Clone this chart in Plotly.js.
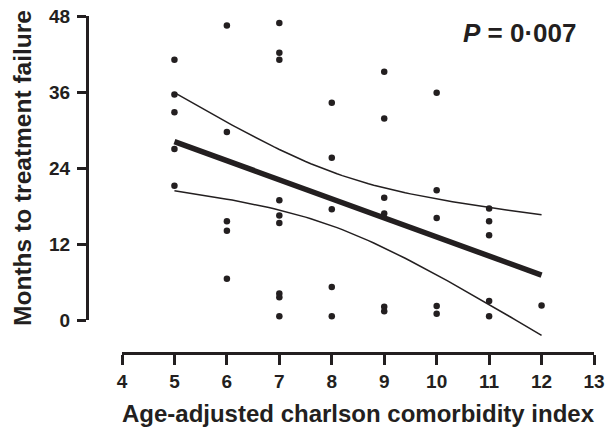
<!DOCTYPE html>
<html><head><meta charset="utf-8">
<script src="https://cdn.plot.ly/plotly-3.0.1.min.js"></script>
<style>html,body{margin:0;padding:0;background:#fff}</style>
</head><body><div id="chart" style="width:606px;height:432px"></div>
<script>
// ---- data ----
const aaci = [5,5,5,5,5, 6,6,6,6,6, 7,7,7,7,7,7,7,7,7, 8,8,8,8,8, 9,9,9,9,9,9, 10,10,10,10,10, 11,11,11,11,11, 12];
const months = [41.1,35.6,32.8,27.0,21.2, 46.5,29.7,15.6,14.1,6.5, 46.9,42.2,41.1,18.9,16.5,15.3,4.2,3.6,0.6, 34.3,25.6,17.5,5.2,0.6, 39.2,31.8,19.3,16.8,2.1,1.4, 35.9,20.5,16.1,2.2,1.0, 17.6,15.6,13.4,3.0,0.6, 2.3];
const xTicks = [4,5,6,7,8,9,10,11,12,13];
const yTicks = [0,12,24,36,48];
const xTitle = "Age-adjusted charlson comorbidity index";
const yTitle = "Months to treatment failure";
const pText = "<b><i>P</i> = 0·007</b>";

// ---- linear regression with 95% confidence band ----
const n = aaci.length;
const mx = aaci.reduce((a,b)=>a+b,0)/n;
const my = months.reduce((a,b)=>a+b,0)/n;
let sxx=0, sxy=0;
for (let i=0;i<n;i++){ sxx += (aaci[i]-mx)**2; sxy += (aaci[i]-mx)*(months[i]-my); }
const slope = sxy/sxx, icpt = my - slope*mx;
let sse=0;
for (let i=0;i<n;i++){ sse += (months[i]-(icpt+slope*aaci[i]))**2; }
const s = Math.sqrt(sse/(n-2));
const tcrit = 2.0227; // t(0.975, df=39)
const xmin = Math.min(...aaci), xmax = Math.max(...aaci);
const fx=[], fy=[], lo=[], hi=[];
for (let k=0;k<=70;k++){
  const x = xmin + (xmax-xmin)*k/70;
  const yh = icpt + slope*x;
  const se = s*Math.sqrt(1/n + (x-mx)**2/sxx);
  fx.push(x); fy.push(yh); lo.push(yh - tcrit*se); hi.push(yh + tcrit*se);
}

// ---- layout geometry ----
const W=606, H=432;
const ink = '#231f20';
const FONT = 'Liberation Sans, Arial, Helvetica, sans-serif';
const yTop=16, y0px=320, xAxisPx=353, xLeft=122, xRight=594, yAxisPx=87;
const yLowExt = -(xAxisPx - y0px) * (yTicks[yTicks.length-1]-yTicks[0]) / (y0px - yTop);

const traces = [
  {x: fx, y: hi, xaxis:'x', yaxis:'y2', mode:'lines', line:{color:ink, width:1.5}, hoverinfo:'skip'},
  {x: fx, y: lo, xaxis:'x', yaxis:'y2', mode:'lines', line:{color:ink, width:1.5}, hoverinfo:'skip'},
  {x: fx, y: fy, xaxis:'x', yaxis:'y2', mode:'lines', line:{color:ink, width:5.5}, hoverinfo:'skip'},
  {x: aaci, y: months, xaxis:'x', yaxis:'y', mode:'markers', cliponaxis:false,
   marker:{color:ink, size:6.5}}
];

const layout = {
  width: W, height: H,
  margin: {l:0, r:0, t:0, b:0, pad:0},
  paper_bgcolor: '#fff', plot_bgcolor: 'rgba(0,0,0,0)',
  showlegend: false,
  font: {family: FONT, color: ink},
  xaxis: {
    domain: [xLeft/W, xRight/W], range: [xTicks[0], xTicks[xTicks.length-1]],
    anchor: 'free', position: 1 - xAxisPx/H,
    tickmode: 'array', tickvals: xTicks,
    showline: true, linewidth: 3, linecolor: ink,
    ticks: 'outside', ticklen: 10, tickwidth: 3, tickcolor: ink,
    showgrid: false, zeroline: false, automargin: false,
    tickfont: {family: FONT, size: 19, weight: 700, color: ink},
    title: {text: xTitle, standoff: 14, font: {family: FONT, size: 24, weight: 700, color: ink}}
  },
  yaxis: {
    domain: [1 - y0px/H, 1 - yTop/H], range: [yTicks[0], yTicks[yTicks.length-1]],
    anchor: 'free', position: yAxisPx/W,
    tickmode: 'array', tickvals: yTicks,
    showline: true, linewidth: 3, linecolor: ink,
    ticks: 'outside', ticklen: 9, tickwidth: 3, tickcolor: ink,
    ticklabelstandoff: 3,
    showgrid: false, zeroline: false, automargin: false,
    tickfont: {family: FONT, size: 19, weight: 700, color: ink},
    title: {text: yTitle, standoff: 9, font: {family: FONT, size: 24.5, weight: 700, color: ink}}
  },
  yaxis2: {
    domain: [1 - xAxisPx/H, 1 - yTop/H], range: [yLowExt, yTicks[yTicks.length-1]],
    anchor: 'x', visible: false, showgrid:false, zeroline:false
  },
  annotations: [{
    xref:'paper', yref:'paper', x: 578/W, y: 1 - 32.5/H, xanchor:'right', yanchor:'middle',
    text: pText, showarrow:false, font:{family: FONT, size: 26, color: ink}
  }]
};

Plotly.newPlot('chart', traces, layout, {staticPlot:true, displayModeBar:false});
</script>
</body></html>
